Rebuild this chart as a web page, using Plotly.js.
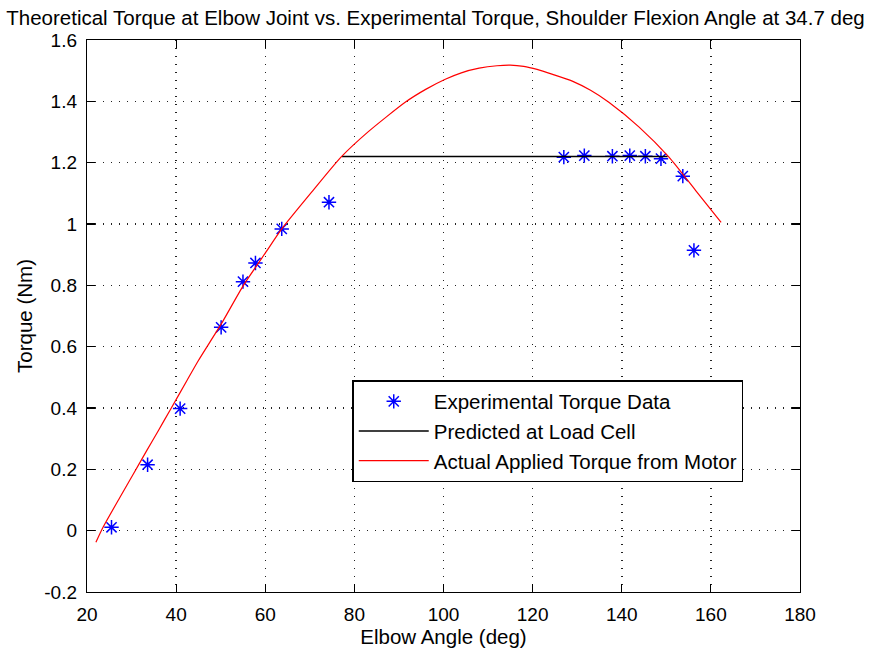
<!DOCTYPE html>
<html>
<head>
<meta charset="utf-8">
<script src="https://cdn.plot.ly/plotly-3.0.1.min.js"></script>
<style>html,body{margin:0;padding:0;background:#fff;}#chart{width:871px;height:651px;}</style>
</head>
<body>
<div id="chart"></div>
<script>
// Experimental torque data
const expAngle = [25.5, 33.6, 40.9, 50.1, 55.0, 57.8, 63.7, 74.3, 127.0, 131.6, 137.9, 141.8, 145.3, 148.8, 153.7, 156.2];
const expTorque = [0.011, 0.215, 0.398, 0.663, 0.812, 0.873, 0.984, 1.071, 1.218, 1.223, 1.221, 1.223, 1.221, 1.213, 1.156, 0.914];

// Predicted at load cell
const predAngle = [77.2, 150.3];
const predTorque = [1.22, 1.22];

// Actual applied torque from motor
const motorAngle = [22.0, 23.6, 27.4, 30.4, 33.4, 36.0, 38.6, 42.4, 45.0, 50.2, 55.1, 60.0, 63.7, 70.7, 77.0, 83.2, 91.4, 96.0, 100.4, 104.0, 108.0, 112.0, 115.0, 118.0, 121.0, 124.5, 128.9, 133.0, 137.1, 143.9, 150.6, 156.6, 162.3];
const motorTorque = [-0.038, 0.011, 0.109, 0.185, 0.261, 0.326, 0.392, 0.489, 0.555, 0.676, 0.800, 0.905, 0.984, 1.109, 1.218, 1.302, 1.397, 1.439, 1.472, 1.493, 1.508, 1.516, 1.518, 1.514, 1.504, 1.488, 1.466, 1.436, 1.397, 1.316, 1.218, 1.109, 1.005];

const xTicks = [20, 40, 60, 80, 100, 120, 140, 160, 180];
const yTicks = [-0.2, 0, 0.2, 0.4, 0.6, 0.8, 1, 1.2, 1.4, 1.6];
const yTickText = ['-0.2', '0', '0.2', '0.4', '0.6', '0.8', '1', '1.2', '1.4', '1.6'];

const FONT = 'Liberation Sans, Arial, sans-serif';

const traces = [
  {x: expAngle, y: expTorque, mode: 'markers', type: 'scatter', name: 'Experimental Torque Data', legendgroup: 'a',
   marker: {symbol: 'asterisk-open', size: 12, color: '#0000ff', line: {color: '#0000ff', width: 1.5}}},
  {x: predAngle, y: predTorque, mode: 'lines', type: 'scatter', name: 'Predicted at Load Cell', legendgroup: 'b',
   line: {color: '#000000', width: 1.5}},
  {x: motorAngle, y: motorTorque, mode: 'lines', type: 'scatter', name: 'Actual Applied Torque from Motor', legendgroup: 'c',
   line: {color: '#ff0000', width: 1.2, shape: 'spline', smoothing: 0.6}}
];

const axisCommon = {
  showline: true, linecolor: '#000', linewidth: 1.2, mirror: 'ticks',
  ticks: 'inside', ticklen: 8, tickcolor: '#000', tickwidth: 1.2,
  showgrid: true, gridcolor: '#222', griddash: '1px,7px', gridwidth: 1.5,
  zeroline: false, tickfont: {family: FONT, size: 19, color: '#000'}, ticklabelstandoff: 5
};

const layout = {
  width: 871, height: 651,
  margin: {l: 87, r: 71, t: 40, b: 59},
  paper_bgcolor: '#fff', plot_bgcolor: '#fff',
  title: {text: 'Theoretical Torque at Elbow Joint vs. Experimental Torque, Shoulder Flexion Angle at 34.7 deg',
          font: {family: FONT, size: 20.5, color: '#000'}, x: 0.5, xanchor: 'center', y: 0.972, yanchor: 'middle'},
  xaxis: Object.assign({}, axisCommon, {range: [20, 180], tickvals: xTicks,
    title: {text: 'Elbow Angle (deg)', font: {family: FONT, size: 20.5, color: '#000'}, standoff: 4}}),
  yaxis: Object.assign({}, axisCommon, {range: [-0.2, 1.6], tickvals: yTicks, ticktext: yTickText,
    title: {text: 'Torque (Nm)', font: {family: FONT, size: 20.5, color: '#000'}, standoff: 6}}),
  showlegend: true,
  legend: {x: 0.372, y: 0.384, xanchor: 'left', yanchor: 'top', bgcolor: '#fff', bordercolor: '#000', borderwidth: 1.5,
           font: {family: FONT, size: 20.5, color: '#000'}, traceorder: 'grouped', tracegroupgap: 0, itemwidth: 70}
};

Plotly.newPlot('chart', traces, layout, {displayModeBar: false, staticPlot: true});
</script>
</body>
</html>
